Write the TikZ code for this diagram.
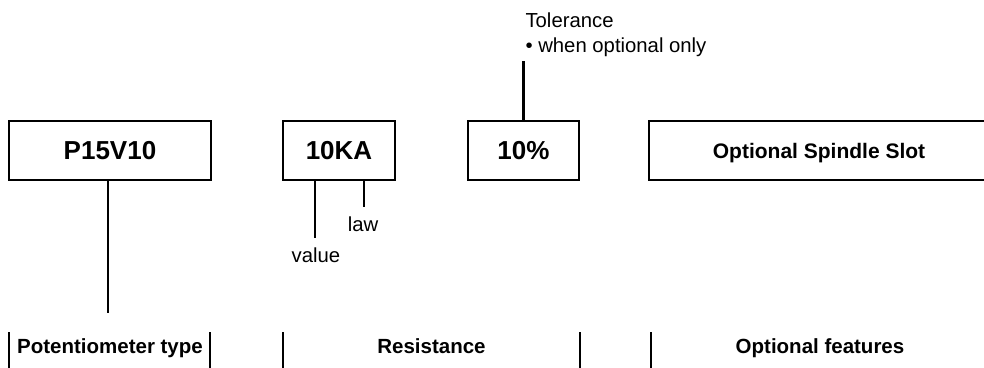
\documentclass[tikz,border=0pt]{standalone}
\usepackage{fontspec}
\setmainfont{Liberation Sans}
\begin{document}
\begin{tikzpicture}[x=1pt,y=-1pt,
  lw/.style={line width=2.6pt},
  codebox/.style={draw,line width=2.6pt,rectangle,minimum height=59pt,inner sep=0pt,
     font=\fontsize{26}{30}\selectfont\bfseries,text height=18.6pt,text depth=0pt},
  featbox/.style={codebox,font=\fontsize{21}{25}\selectfont\bfseries,text height=15pt},
  grouplabel/.style={anchor=base,font=\fontsize{20.5}{24}\selectfont\bfseries},
  note/.style={anchor=base,font=\fontsize{20.3}{24}\selectfont},
  bar/.style={line width=2.6pt}]
\useasboundingbox (0,0) rectangle (984,367);
\clip (0,0) rectangle (984,367);
% boxes
\node[codebox,minimum width=202pt] (b1) at (110,150.5) {P15V10};
\node[codebox,minimum width=112pt] (b2) at (339,150.5) {10KA};
\node[codebox,minimum width=111pt] (b3) at (523.5,150.5) {10\%};
\node[featbox,minimum width=340pt] (b4) at (819,150.5) {Optional Spindle Slot};
% notes
\node[note] (val) at (316,262) {value};
\node[note] (law) at (363,231) {law};
\node[note,anchor=base west] (tol) at (522,27) {Tolerance};
\node[note,anchor=base west] (tol2) at (522,52) {• when optional only};
\coordinate (vend) at (315,238);
\coordinate (lend) at (364,207);
\coordinate (tend) at (523.5,61);
\coordinate (pend) at (108,313);
\draw[lw] (vend |- b2.south) -- (vend);
\draw[lw] (lend |- b2.south) -- (lend);
\draw[lw] (b3.north) -- (tend);
\draw[lw] (pend |- b1.south) -- (pend);
% group labels
\node[grouplabel] (g1) at (110,353) {Potentiometer type};
\node[grouplabel] (g2) at (431.5,353) {Resistance};
\node[grouplabel] (g3) at (820,353) {Optional features};
\foreach \x/\n in {9/a,210/b,283/c,580/d,651/e,989/f}{
  \coordinate (t\n) at (\x,332);
  \coordinate (u\n) at (\x,370);
  \draw[bar] (t\n) -- (u\n);
}
\end{tikzpicture}
\end{document}
